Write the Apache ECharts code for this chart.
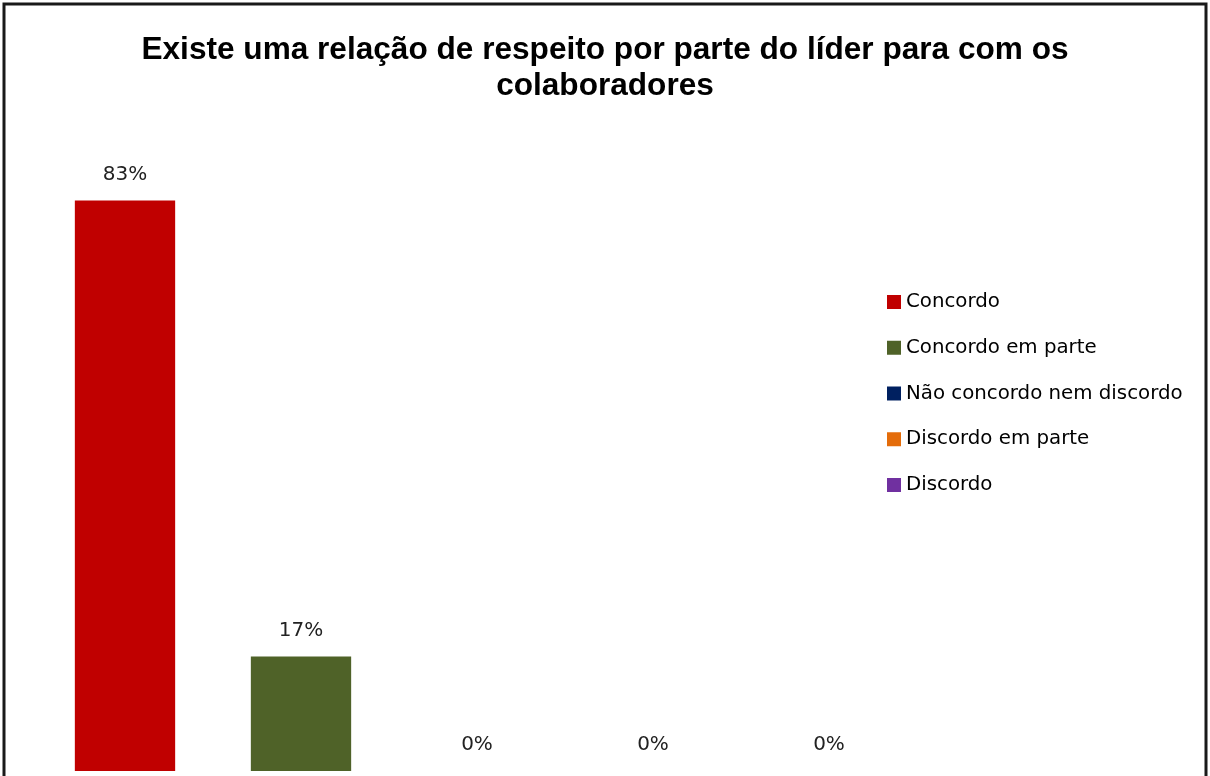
<!DOCTYPE html>
<html>
<head>
<meta charset="utf-8">
<script src="https://cdn.jsdelivr.net/npm/echarts@6/dist/echarts.min.js"></script>
<style>
  html, body { margin: 0; padding: 0; background: #fff; }
  #main { width: 1210px; height: 776px; }
</style>
</head>
<body>
<div id="main"></div>
<script>
// categorias e valores (%)
var categories = ['Concordo', 'Concordo em parte', 'Não concordo nem discordo', 'Discordo em parte', 'Discordo'];
var values = [83.3, 16.7, 0, 0, 0];
var colors = ['#C00000', '#4F6228', '#002060', '#E46C0A', '#7030A0'];

var myChart = echarts.init(document.getElementById('main'));

var series = [];
for (var i = 0; i < categories.length; i++) {
  var d = [];
  for (var j = 0; j < categories.length; j++) {
    d.push(j === i ? values[i] : '-');
  }
  series.push({
    name: categories[i],
    type: 'bar',
    stack: 'total',
    barWidth: '57%',
    data: d,
    itemStyle: { color: colors[i] },
    label: {
      show: true,
      position: 'top',
      distance: 16,
      color: '#222',
      fontFamily: 'DejaVu Sans',
      fontSize: 20,
      formatter: function (p) { return Math.round(p.value) + '%'; }
    }
  });
}

var option = {
  animation: false,
  title: {
    text: 'Existe uma relação de respeito por parte do líder para com os\ncolaboradores',
    left: 'center',
    top: 27,
    textStyle: {
      fontFamily: 'Liberation Sans',
      fontWeight: 'bold',
      fontSize: 31.6,
      lineHeight: 36,
      color: '#000'
    }
  },
  legend: {
    orient: 'vertical',
    left: 882,
    top: 287,
    itemWidth: 14,
    itemHeight: 14,
    itemGap: 25.75,
    icon: 'rect',
    data: categories,
    textStyle: {
      fontFamily: 'DejaVu Sans',
      fontSize: 19.8,
      lineHeight: 18,
      color: '#000'
    }
  },
  grid: { left: 37, right: 293, top: 86, bottom: 5 },
  xAxis: {
    type: 'category',
    data: categories,
    show: false
  },
  yAxis: {
    type: 'value',
    min: 0,
    max: 100,
    show: false
  },
  graphic: [{
    type: 'rect',
    shape: { x: 4, y: 4, width: 1202, height: 800 },
    style: { fill: 'none', stroke: '#1a1a1a', lineWidth: 3 },
    silent: true
  }],
  series: series
};

myChart.setOption(option);
</script>
</body>
</html>
